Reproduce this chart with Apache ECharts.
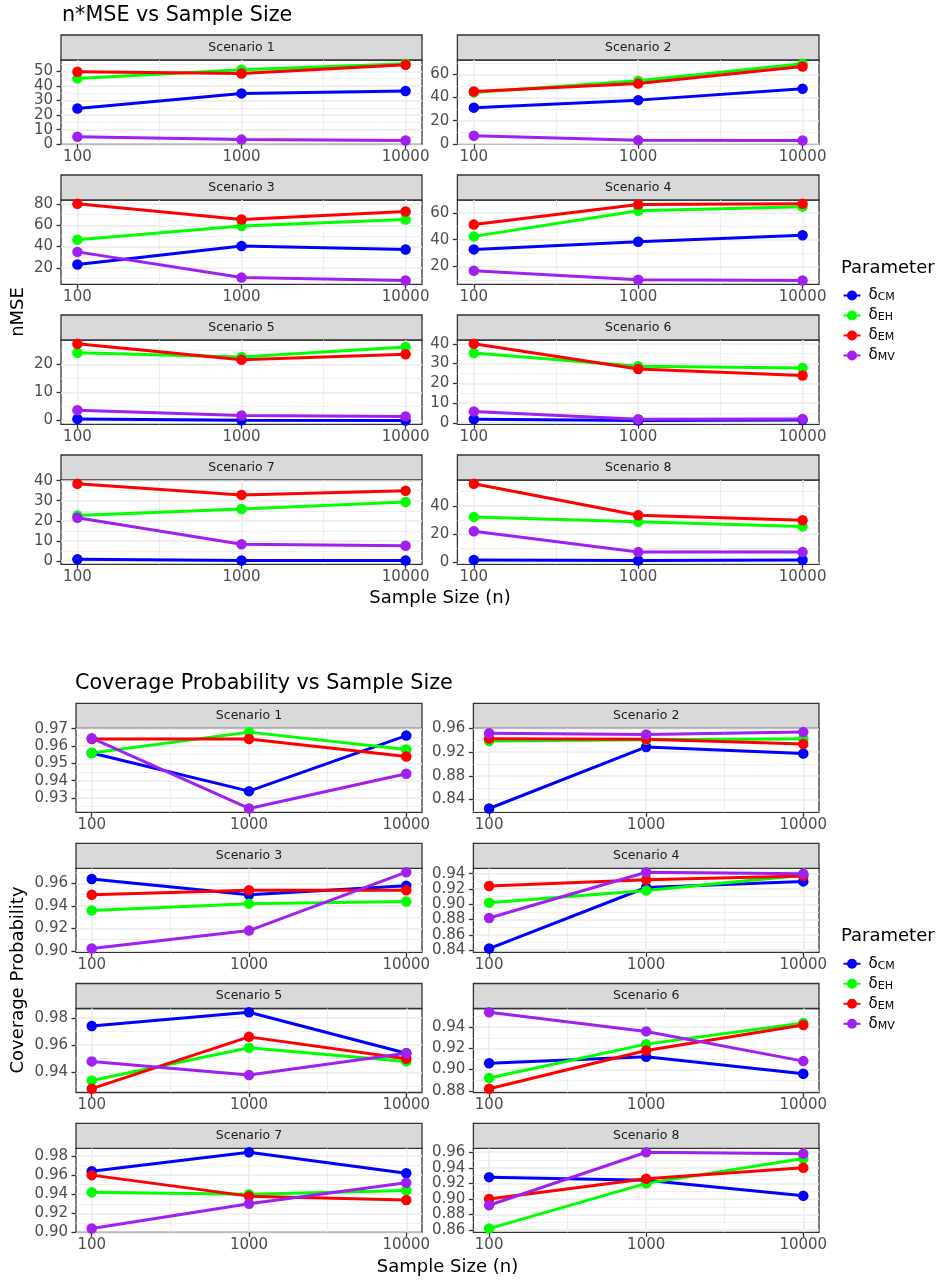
<!DOCTYPE html>
<html><head><meta charset="utf-8">
<script src="https://cdn.jsdelivr.net/npm/echarts@6/dist/echarts.min.js"></script>
<style>html,body{margin:0;padding:0;background:#fff}#c{width:942px;height:1282px}</style>
</head><body><div id="c"></div>
<script>
// ---------------- data ----------------
const sampleSizes = [100, 1000, 10000];
const xTickLabels = ['100', '1000', '10000'];
const paramNames = ['CM', 'EH', 'EM', 'MV'];
const scenarioNames = ['Scenario 1','Scenario 2','Scenario 3','Scenario 4','Scenario 5','Scenario 6','Scenario 7','Scenario 8'];

// n*MSE per scenario (rows) at n = 100, 1000, 10000
const mseCM = [[24.5,34.9,36.6],[31.3,37.8,47.6],[23.1,40.5,37.2],[32.8,38.5,43.3],[0.6,0.15,0.05],[1.8,1.2,1.5],[0.9,0.3,0.3],[1.9,1.5,1.8]];
const mseEH = [[45.2,51.2,55.2],[44.5,54.5,69.2],[46.5,59.3,65.4],[42.5,61.6,64.7],[24.1,22.6,26.2],[35.3,28.7,27.8],[22.7,25.9,29.4],[32.2,28.8,25.5]];
const mseEM = [[49.8,48.6,54.5],[45.3,52.1,66.8],[80.2,65.4,73.0],[51.3,66.3,66.8],[27.3,21.6,23.6],[40.0,27.3,24.0],[38.4,32.9,34.9],[55.5,33.4,29.9]];
const mseMV = [[5.2,3.2,2.6],[7.0,3.0,2.9],[35.0,10.8,8.1],[16.8,10.2,9.6],[3.7,1.8,1.5],[5.8,1.8,2.0],[21.5,8.4,7.6],[22.1,7.4,7.4]];

// coverage probability per scenario at n = 100, 1000, 10000
const covCM = [[0.956,0.934,0.966],[0.825,0.929,0.918],[0.964,0.950,0.958],[0.842,0.922,0.930],[0.974,0.984,0.954],[0.906,0.912,0.896],[0.964,0.984,0.962],[0.928,0.924,0.904]];
const covEH = [[0.956,0.968,0.958],[0.939,0.941,0.943],[0.936,0.942,0.944],[0.902,0.918,0.938],[0.934,0.958,0.948],[0.892,0.924,0.944],[0.942,0.940,0.944],[0.862,0.920,0.952]];
const covEM = [[0.964,0.964,0.954],[0.943,0.942,0.934],[0.950,0.954,0.954],[0.924,0.932,0.937],[0.928,0.966,0.950],[0.882,0.918,0.942],[0.960,0.938,0.934],[0.900,0.926,0.940]];
const covMV = [[0.9645,0.924,0.944],[0.952,0.950,0.954],[0.902,0.918,0.970],[0.882,0.942,0.940],[0.948,0.938,0.954],[0.954,0.936,0.908],[0.904,0.930,0.952],[0.892,0.960,0.958]];

const mseTickLabels = [['0','10','20','30','40','50'],['0','20','40','60'],['20','40','60','80'],['20','40','60'],['0','10','20'],['0','10','20','30','40'],['0','10','20','30','40'],['0','20','40']];
const covTickLabels = [['0.93','0.94','0.95','0.96','0.97'],['0.84','0.88','0.92','0.96'],['0.90','0.92','0.94','0.96'],['0.84','0.86','0.88','0.90','0.92','0.94'],['0.94','0.96','0.98'],['0.88','0.90','0.92','0.94'],['0.90','0.92','0.94','0.96','0.98'],['0.86','0.88','0.90','0.92','0.94','0.96']];

// ---------------- styling / layout ----------------
const FONT = 'DejaVu Sans';
const colorOf = {CM:'#0000FF', EH:'#00FF00', EM:'#FF0000', MV:'#A020F0'};
const GRID_MAJOR = {color:'#ebebeb', width:1.5};
const GRID_MINOR = {color:'#ebebeb', width:0.8};
const DARK = '#333333';

const blocks = [
  { title:'n*MSE vs Sample Size', titleX:62, titleY:16, yTitle:'nMSE', yTitleY:312, xTitleX:440, xTitleY:598,
    rowsTop:[60,200,340,480], h:84.3, cols:[[61,361],[457.4,361.6]],
    series:{CM:mseCM, EH:mseEH, EM:mseEM, MV:mseMV}, ticks:mseTickLabels, legendTitleY:268, legendTop:288 },
  { title:'Coverage Probability vs Sample Size', titleX:75, titleY:684, yTitle:'Coverage Probability', yTitleY:980, xTitleX:447.5, xTitleY:1267,
    rowsTop:[728.3,868.4,1008.5,1148.4], h:84, cols:[[76,346],[473.4,345.6]],
    series:{CM:covCM, EH:covEH, EM:covEM, MV:covMV}, ticks:covTickLabels, legendTitleY:936.3, legendTop:956.3 }
];

const xMajor = sampleSizes.map(n => Math.log10(n));
const xMinor = xMajor.slice(1).map((v, i) => (v + xMajor[i]) / 2);
const xMin = xMajor[0] - 0.05 * (xMajor[xMajor.length-1] - xMajor[0]);
const xMax = xMajor[xMajor.length-1] + 0.05 * (xMajor[xMajor.length-1] - xMajor[0]);

const grids = [], xAxes = [], yAxes = [], series = [], graphics = [], legends = [];

function findLabel(vals, labels, v) {
  const i = vals.findIndex(m => Math.abs(m - v) < 1e-9 * Math.max(1, Math.abs(m)) + 1e-9);
  return i >= 0 ? labels[i] : '';
}

const legendRich = {
  d: {fontSize:15, fontFamily:FONT, color:'#000', lineHeight:15, verticalAlign:'top', padding:[0,0,2,3]},
  s: {fontSize:11, fontFamily:FONT, color:'#000', lineHeight:11, verticalAlign:'bottom'}
};

function yLabelAxis(gi, lo, hi, vals, labels, withSplit) {
  return {gridIndex:gi, type:'value', min:lo, max:hi, position:'left', offset:0,
    axisLine:{show:false, onZero:false},
    axisTick:{show:true, customValues:vals, length:4.5, lineStyle:{color:DARK, width:1.3}},
    axisLabel:{show:true, customValues:vals, formatter:v => findLabel(vals, labels, v),
      showMinLabel:true, showMaxLabel:true, hideOverlap:false,
      fontSize:15, fontFamily:FONT, color:'#4d4d4d', margin:8},
    splitLine:{show:withSplit, lineStyle:GRID_MAJOR}};
}

blocks.forEach(b => {
  graphics.push({type:'text', x:b.titleX, y:b.titleY, silent:true,
    style:{text:b.title, fontSize:20.7, fontFamily:FONT, fill:'#000', align:'left', verticalAlign:'middle'}});
  graphics.push({type:'text', x:18, y:b.yTitleY, rotation:Math.PI/2, silent:true,
    style:{text:b.yTitle, fontSize:18, fontFamily:FONT, fill:'#000', align:'center', verticalAlign:'middle'}});
  graphics.push({type:'text', x:b.xTitleX, y:b.xTitleY, silent:true,
    style:{text:'Sample Size (n)', fontSize:18, fontFamily:FONT, fill:'#000', align:'center', verticalAlign:'middle'}});
  graphics.push({type:'text', x:841, y:b.legendTitleY, silent:true,
    style:{text:'Parameter', fontSize:18, fontFamily:FONT, fill:'#000', align:'left', verticalAlign:'middle'}});

  legends.push({
    data: paramNames, orient:'vertical', left:842.5, top:b.legendTop, padding:0,
    itemWidth:17, itemHeight:12.5, itemGap:3, selectedMode:false,
    formatter: name => '{d|δ}{s|' + name + '}',
    textStyle:{fontFamily:FONT, rich:legendRich}
  });

  for (let p = 0; p < 8; p++) {
    const row = Math.floor(p / 2), col = p % 2;
    const [gx, gw] = b.cols[col];
    const gy = b.rowsTop[row];
    const gi = grids.length;
    grids.push({left:gx, top:gy, width:gw, height:b.h, show:true, borderColor:DARK, borderWidth:1.3,
      backgroundColor:'#fff', containLabel:false, outerBoundsMode:'none'});

    // strip
    graphics.push({type:'rect', silent:true, shape:{x:gx, y:gy-25, width:gw, height:25},
      style:{fill:'#d9d9d9', stroke:DARK, lineWidth:1.3}});
    graphics.push({type:'text', silent:true, x:gx+gw/2, y:gy-12.5,
      style:{text:scenarioNames[p], fontSize:12.5, fontFamily:FONT, fill:'#1a1a1a', align:'center', verticalAlign:'middle'}});

    // y range from data (5% expansion)
    const all = [];
    paramNames.forEach(k => all.push(...b.series[k][p]));
    const dmin = Math.min(...all), dmax = Math.max(...all);
    const lo = dmin - 0.05 * (dmax - dmin), hi = dmax + 0.05 * (dmax - dmin);
    const tLabels = b.ticks[p];
    const yMajor = tLabels.map(Number);
    const step = yMajor[1] - yMajor[0];
    const yMinor = [];
    for (let v = yMajor[0] - step/2; v <= hi; v += step) if (v >= lo) yMinor.push(+v.toFixed(6));

    const xi = xAxes.length;
    xAxes.push({gridIndex:gi, type:'value', min:xMin, max:xMax, position:'bottom',
      axisLine:{show:false, onZero:false},
      axisTick:{show:true, customValues:xMajor, length:4.5, lineStyle:{color:DARK, width:1.3}},
      axisLabel:{show:true, customValues:xMajor, formatter:v => findLabel(xMajor, xTickLabels, v),
        showMinLabel:true, showMaxLabel:true, hideOverlap:false,
        fontSize:15, fontFamily:FONT, color:'#4d4d4d', margin:5},
      splitLine:{show:true, lineStyle:GRID_MAJOR}});
    xAxes.push({gridIndex:gi, type:'value', min:xMin, max:xMax, position:'top',
      axisLine:{show:false, onZero:false},
      axisTick:{show:false, customValues:xMinor},
      axisLabel:{show:false, customValues:xMinor},
      splitLine:{show:true, lineStyle:GRID_MINOR}});

    // major y ticks split over two left axes (alternate ticks) so no label gets dropped
    const evenV = yMajor.filter((_, i) => i % 2 === 0), evenL = tLabels.filter((_, i) => i % 2 === 0);
    const oddV = yMajor.filter((_, i) => i % 2 === 1), oddL = tLabels.filter((_, i) => i % 2 === 1);
    const yi = yAxes.length;
    yAxes.push(yLabelAxis(gi, lo, hi, evenV, evenL, true));
    yAxes.push(yLabelAxis(gi, lo, hi, oddV, oddL, true));
    yAxes.push({gridIndex:gi, type:'value', min:lo, max:hi, position:'right',
      axisLine:{show:false, onZero:false},
      axisTick:{show:false, customValues:yMinor},
      axisLabel:{show:false, customValues:yMinor},
      splitLine:{show:true, lineStyle:GRID_MINOR}});

    paramNames.forEach(k => {
      series.push({type:'line', name:k, xAxisIndex:xi, yAxisIndex:yi,
        data: sampleSizes.map((n, i) => [Math.log10(n), b.series[k][p][i]]),
        symbol:'circle', symbolSize:10.5, showAllSymbol:true,
        lineStyle:{color:colorOf[k], width:3}, itemStyle:{color:colorOf[k]},
        emphasis:{disabled:true}, animation:false, clip:false, silent:true});
    });
  }
});

const chart = echarts.init(document.getElementById('c'), null, {renderer:'canvas'});
chart.setOption({
  backgroundColor:'#ffffff',
  animation:false,
  textStyle:{fontFamily:FONT},
  grid:grids, xAxis:xAxes, yAxis:yAxes, series:series,
  legend:legends, graphic:graphics
});
</script>
</body></html>
